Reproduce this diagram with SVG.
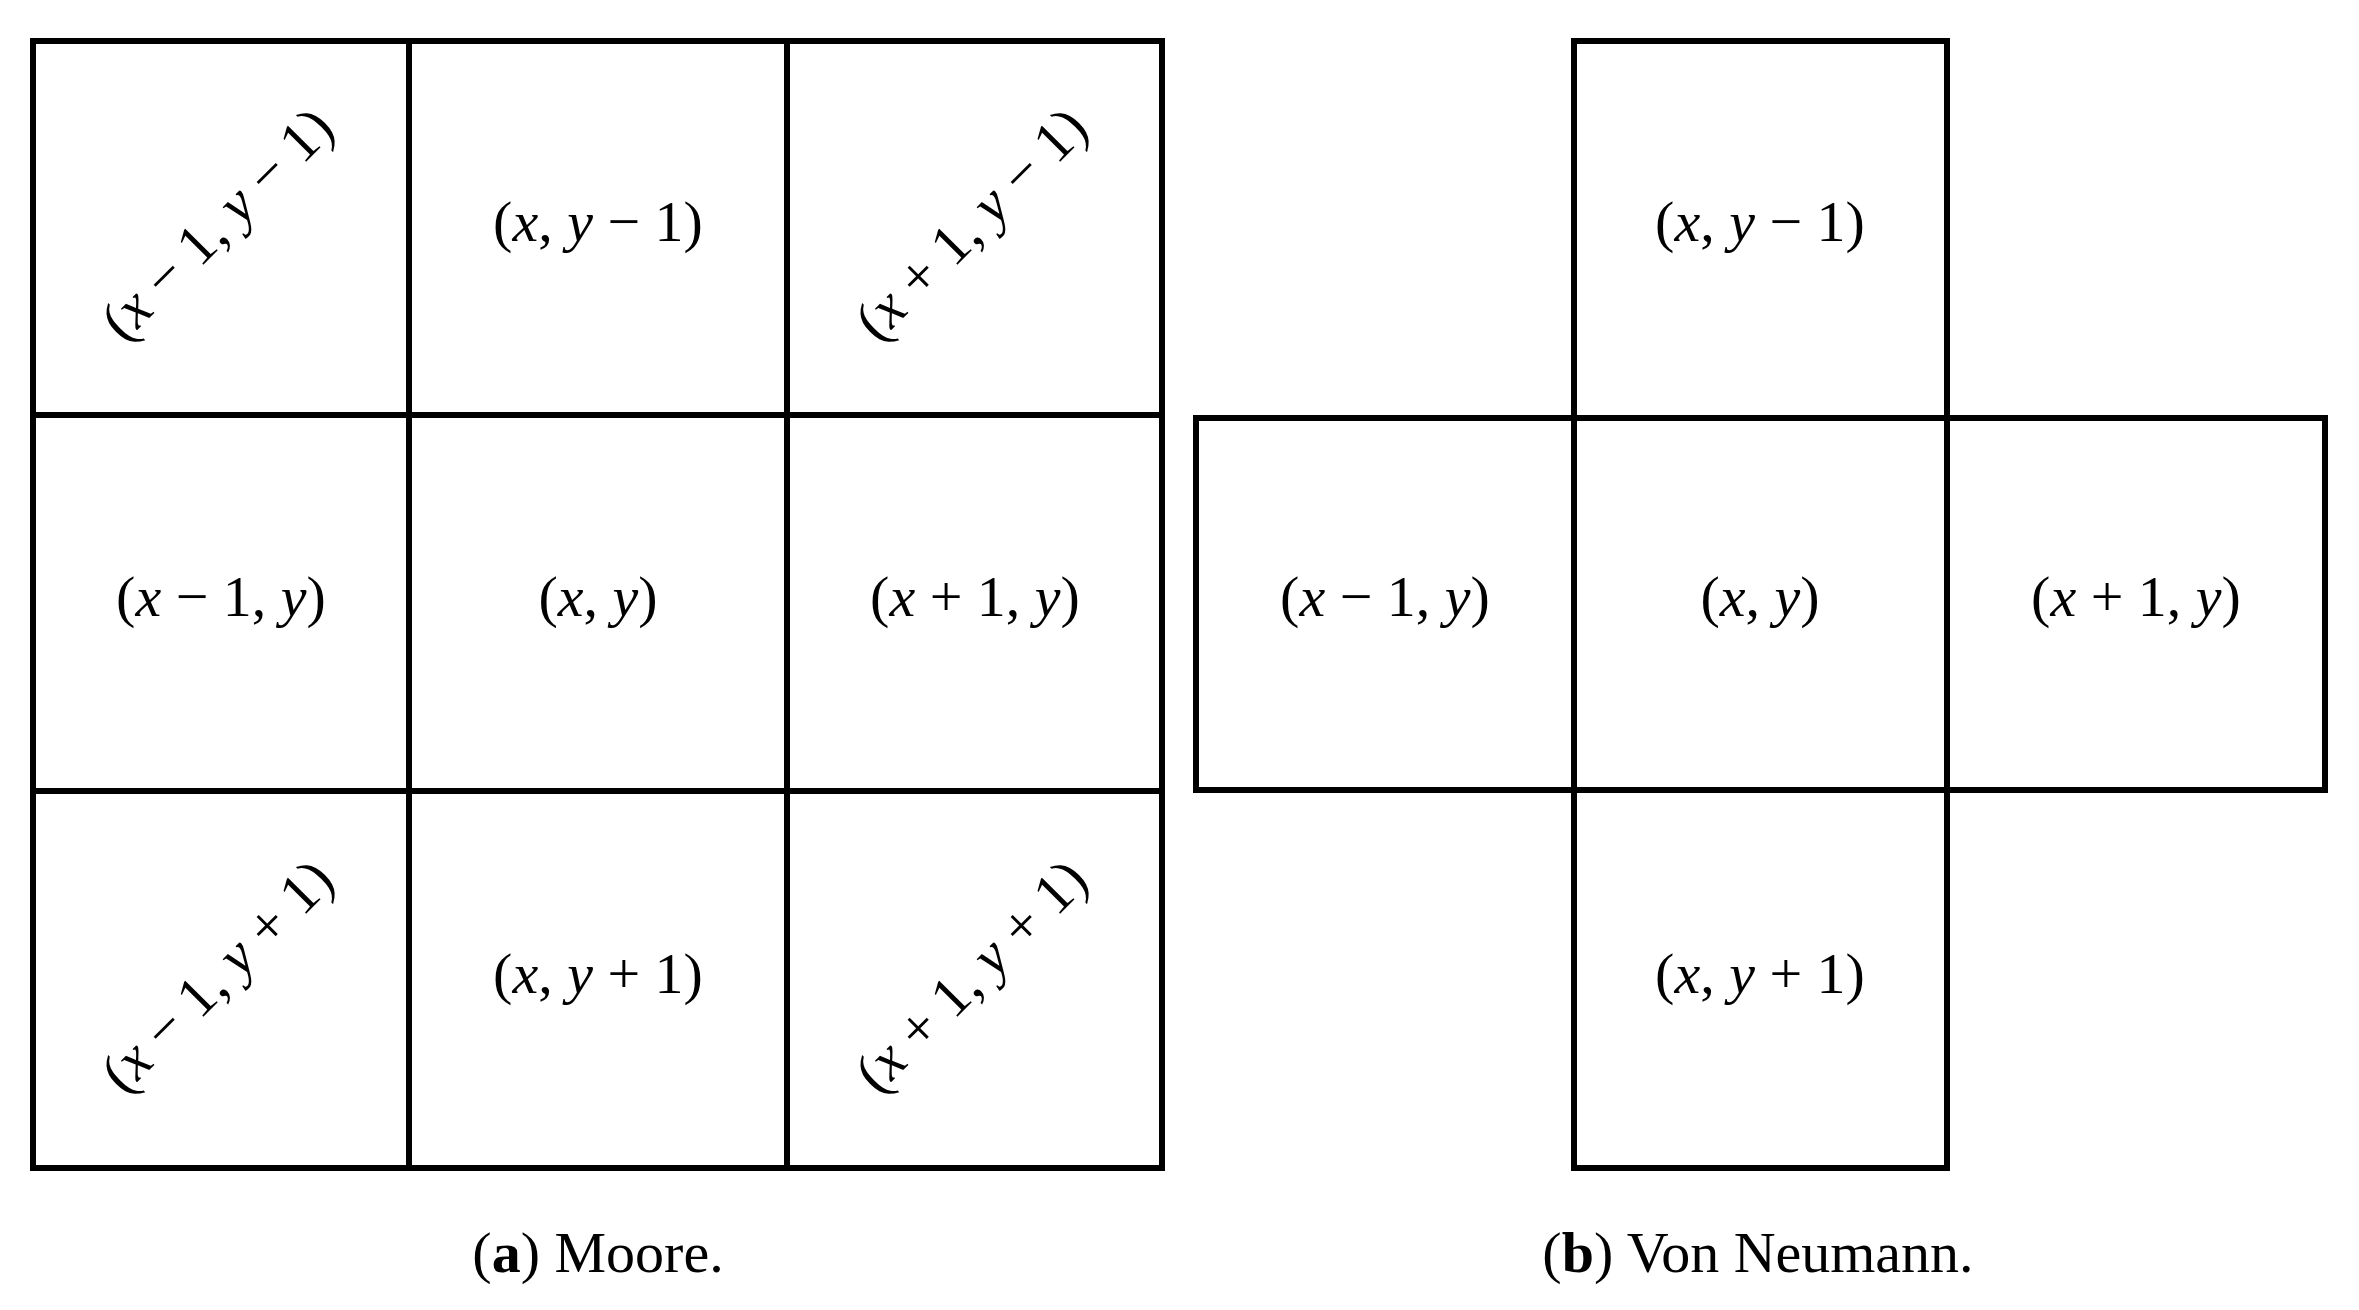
<svg xmlns="http://www.w3.org/2000/svg" width="2359" height="1310" viewBox="0 0 2359 1310">
<style>
.c{fill:none;stroke:#000;stroke-width:6}
.t{font-family:"Liberation Serif",serif;font-size:58px;text-anchor:middle;dominant-baseline:middle}
.i{font-style:italic}
.cap{font-family:"Liberation Serif",serif;font-size:58px;text-anchor:middle}
</style>
<rect width="2359" height="1310" fill="#fff"/>
<g id="moore">
<rect class="c" x="33" y="41" width="1129" height="1127"/>
<line class="c" x1="409" y1="41" x2="409" y2="1168"/>
<line class="c" x1="787" y1="41" x2="787" y2="1168"/>
<line class="c" x1="33" y1="415" x2="1162" y2="415"/>
<line class="c" x1="33" y1="791" x2="1162" y2="791"/>
<text class="t" transform="translate(221,228) rotate(-45)">(<tspan class="i">x</tspan> − 1, <tspan class="i">y</tspan> − 1)</text>
<text class="t" x="598" y="228">(<tspan class="i">x</tspan>, <tspan class="i">y</tspan> − 1)</text>
<text class="t" transform="translate(975,228) rotate(-45)">(<tspan class="i">x</tspan> + 1, <tspan class="i">y</tspan> − 1)</text>
<text class="t" x="221" y="603">(<tspan class="i">x</tspan> − 1, <tspan class="i">y</tspan>)</text>
<text class="t" x="598" y="603">(<tspan class="i">x</tspan>, <tspan class="i">y</tspan>)</text>
<text class="t" x="975" y="603">(<tspan class="i">x</tspan> + 1, <tspan class="i">y</tspan>)</text>
<text class="t" transform="translate(221,980) rotate(-45)">(<tspan class="i">x</tspan> − 1, <tspan class="i">y</tspan> + 1)</text>
<text class="t" x="598" y="980">(<tspan class="i">x</tspan>, <tspan class="i">y</tspan> + 1)</text>
<text class="t" transform="translate(975,980) rotate(-45)">(<tspan class="i">x</tspan> + 1, <tspan class="i">y</tspan> + 1)</text>
</g>
<g id="vonneumann">
<rect class="c" x="1574" y="41" width="373" height="1127"/>
<rect class="c" x="1196" y="418" width="1129" height="372"/>
<text class="t" x="1760" y="228">(<tspan class="i">x</tspan>, <tspan class="i">y</tspan> − 1)</text>
<text class="t" x="1385" y="603">(<tspan class="i">x</tspan> − 1, <tspan class="i">y</tspan>)</text>
<text class="t" x="1760" y="603">(<tspan class="i">x</tspan>, <tspan class="i">y</tspan>)</text>
<text class="t" x="2136" y="603">(<tspan class="i">x</tspan> + 1, <tspan class="i">y</tspan>)</text>
<text class="t" x="1760" y="980">(<tspan class="i">x</tspan>, <tspan class="i">y</tspan> + 1)</text>
</g>
<text class="cap" x="598" y="1272">(<tspan font-weight="bold">a</tspan>)  Moore.</text>
<text class="cap" x="1758" y="1272">(<tspan font-weight="bold">b</tspan>)  Von Neumann.</text>
</svg>
